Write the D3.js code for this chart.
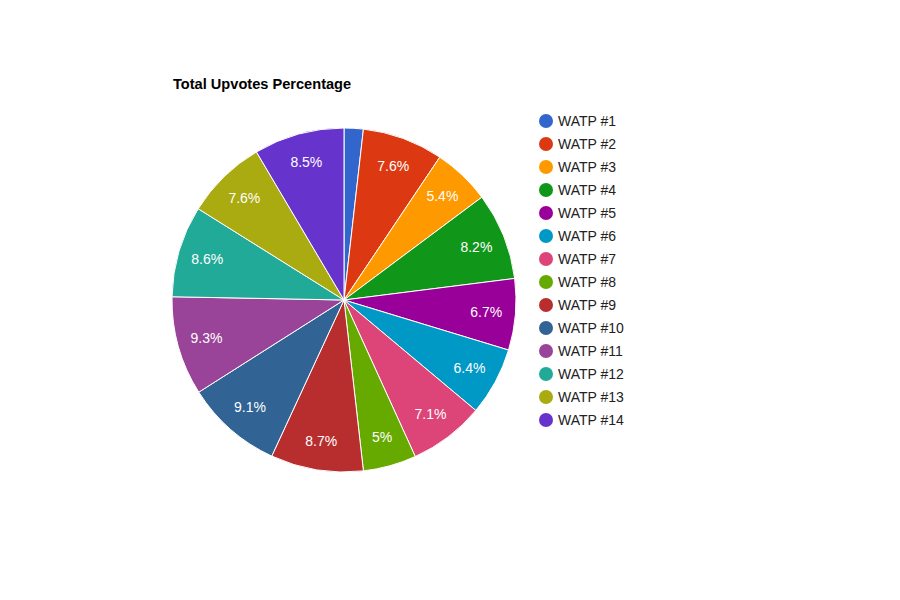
<!DOCTYPE html>
<html lang="en">
<head>
<meta charset="UTF-8">
<title>Total Upvotes Percentage</title>
<script src="https://cdnjs.cloudflare.com/ajax/libs/d3/7.8.5/d3.min.js"></script>
<style>
    body { margin: 0; background: #fff; }
    svg { font-family: Arial, "Liberation Sans", sans-serif; }
</style>
</head>
<body>
<svg width="900" height="600"></svg>
<script>
const categories = ["WATP #1", "WATP #2", "WATP #3", "WATP #4", "WATP #5", "WATP #6", "WATP #7",
    "WATP #8", "WATP #9", "WATP #10", "WATP #11", "WATP #12", "WATP #13", "WATP #14"];
const values = [1.8, 7.6, 5.4, 8.2, 6.7, 6.4, 7.1, 5.0, 8.7, 9.1, 9.3, 8.6, 7.6, 8.5];
const colors = ["#3366cc", "#dc3912", "#ff9900", "#109618", "#990099", "#0099c6", "#dd4477",
    "#66aa00", "#b82e2e", "#316395", "#994499", "#22aa99", "#aaaa11", "#6633cc"];

const svg = d3.select("svg");
const cx = 344, cy = 300, radius = 172;

svg.append("text")
    .attr("x", 173).attr("y", 89)
    .attr("font-size", 14.6).attr("font-weight", "bold")
    .attr("fill", "#000")
    .text("Total Upvotes Percentage");

const data = categories.map((c, i) => ({ name: c, value: values[i], color: colors[i] }));
const total = d3.sum(values);

const pie = d3.pie().value(d => d.value).sort(null);
const arc = d3.arc().innerRadius(0).outerRadius(radius);
const labelArc = d3.arc().innerRadius(radius * 0.83).outerRadius(radius * 0.83);

const g = svg.append("g").attr("transform", `translate(${cx},${cy})`);
const arcs = pie(data);

g.selectAll("path")
    .data(arcs)
    .enter().append("path")
    .attr("d", arc)
    .attr("fill", d => d.data.color)
    .attr("stroke", "#fff")
    .attr("stroke-width", 1);

// small slices get no label, like the original
const fmt = v => d3.format(".2~r")(v);
g.selectAll("text.slice-label")
    .data(arcs.filter(d => d.data.value / total >= 0.03))
    .enter().append("text")
    .attr("class", "slice-label")
    .attr("transform", d => `translate(${labelArc.centroid(d)})`)
    .attr("text-anchor", "middle")
    .attr("dy", "0.35em")
    .attr("font-size", 14)
    .attr("fill", "#fff")
    .text(d => fmt(d.data.value / total * 100) + "%");

// legend
const legend = svg.append("g").attr("transform", "translate(546,121)");
const item = legend.selectAll("g")
    .data(data)
    .enter().append("g")
    .attr("transform", (d, i) => `translate(0,${i * 23})`);
item.append("circle").attr("r", 7).attr("fill", d => d.color);
item.append("text")
    .attr("x", 12).attr("dy", "0.35em")
    .attr("font-size", 14).attr("fill", "#222")
    .text(d => d.name);
</script>
</body>
</html>
